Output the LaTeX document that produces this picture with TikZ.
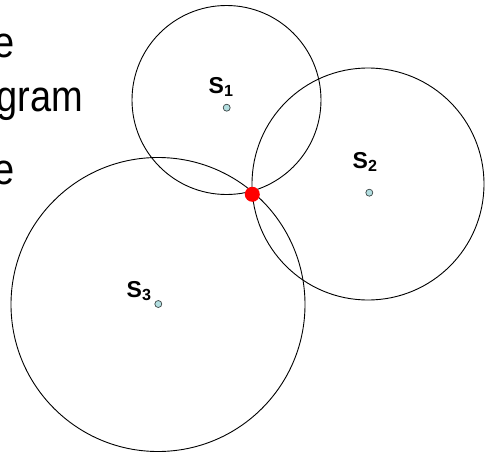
\documentclass[tikz,border=0pt]{standalone}
\usepackage{fontspec}
\usepackage{graphicx}
\setmainfont{Liberation Sans}
\definecolor{seedfill}{RGB}{178,222,224}
\definecolor{seedline}{RGB}{60,70,70}
\newcommand{\talltext}[1]{\scalebox{1}[1.15]{#1}}
\begin{document}
\begin{tikzpicture}[x=1pt,y=-1pt,
  bigcirc/.style={circle,draw=black,line width=0.9pt,inner sep=0pt},
  seed/.style={circle,draw=seedline,fill=seedfill,line width=0.7pt,minimum size=7pt,inner sep=0pt},
  vert/.style={circle,fill=red,minimum size=15pt,inner sep=0pt},
  lab/.style={anchor=base west,inner sep=0pt,font=\fontsize{23}{27}\selectfont\bfseries},
  side/.style={anchor=base east,inner sep=0pt,font=\fontsize{38}{42}\selectfont}]
\useasboundingbox (0,0) rectangle (485,453);
\node[side] (t1) at (15,57) {\talltext{e}};
\node[side] (t2) at (83,111) {\talltext{gram}};
\node[side] (t3) at (15,184) {\talltext{e}};
\node[bigcirc,minimum size=189pt] (c1) at (226.5,100) {};
\node[bigcirc,minimum size=232pt] (c2) at (368,184) {};
\node[bigcirc,minimum size=294pt] (c3) at (158,304.5) {};
\node[seed] (s1) at (226.7,107.7) {};
\node[seed] (s2) at (369.3,192.7) {};
\node[seed] (s3) at (158.3,304) {};
\node[lab] (l1) at (208.5,93) {S\textsubscript{1}};
\node[lab] (l2) at (352.5,168) {S\textsubscript{2}};
\node[lab] (l3) at (126.5,297) {S\textsubscript{3}};
\node[vert] (v) at (252.3,194.3) {};
\end{tikzpicture}
\end{document}
